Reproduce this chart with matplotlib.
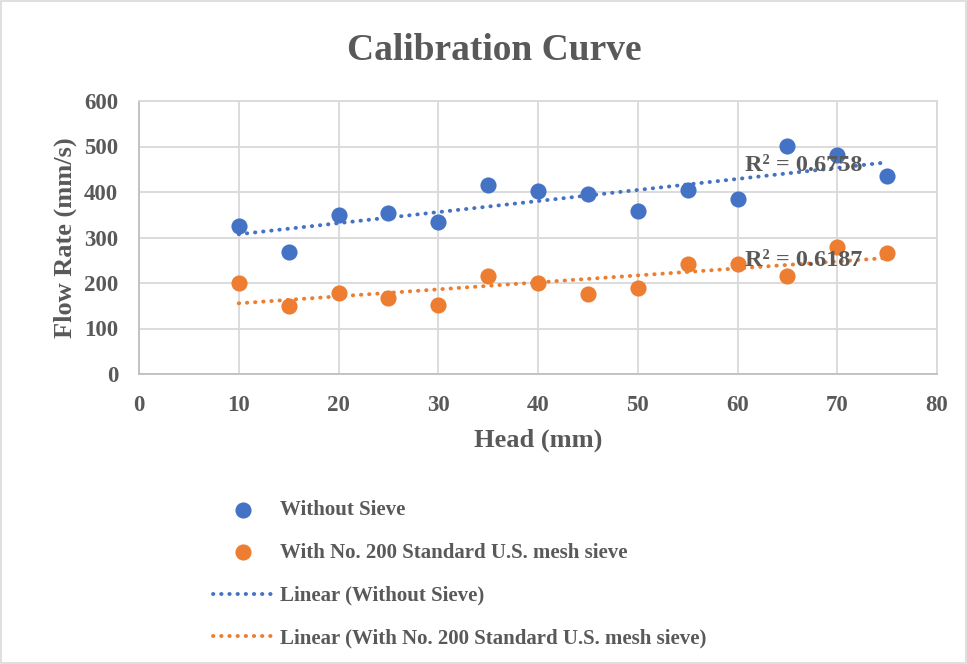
import matplotlib.pyplot as plt
import numpy as np

head = [10, 15, 20, 25, 30, 35, 40, 45, 50, 55, 60, 65, 70, 75]
no_sieve = [325, 269, 349, 353, 334, 415, 402, 395, 358, 405, 385, 501, 481, 435]
with_sieve = [200, 150, 179, 167, 151, 216, 200, 175, 190, 242, 241, 216, 280, 266]
r2_labels = ['R² = 0.6758', 'R² = 0.6187']

blue = '#4472C4'
orange = '#ED7D31'
grey = '#595959'

plt.rcParams['font.family'] = ['Liberation Serif', 'DejaVu Serif']
plt.rcParams['font.weight'] = 'bold'

fig = plt.figure(figsize=(9.67, 6.64), dpi=100)
ax = fig.add_axes([139/967, 1-374/664, (937-139)/967, (374-101)/664])

x = np.array(head, dtype=float)
xs = np.linspace(min(x), max(x), 50)

ax.scatter(x, no_sieve, s=135, c=blue, zorder=3, label='Without Sieve', linewidths=0)
ax.scatter(x, with_sieve, s=135, c=orange, zorder=3,
           label='With No. 200 Standard U.S. mesh sieve', linewidths=0)

# linear trendlines
c1 = np.polyfit(x, no_sieve, 1)
c2 = np.polyfit(x, with_sieve, 1)
ax.plot(xs, np.polyval(c1, xs), linestyle=(0, (0.1, 2.0)), lw=2.8, color=blue,
        dash_capstyle='round', zorder=2, label='Linear (Without Sieve)')
ax.plot(xs, np.polyval(c2, xs), linestyle=(0, (0.1, 2.0)), lw=2.8, color=orange,
        dash_capstyle='round', zorder=2,
        label='Linear (With No. 200 Standard U.S. mesh sieve)')

ax.text(60.8, 459, r2_labels[0], fontsize=17.5, color=grey, fontweight='bold',
        va='center', ha='left', zorder=4)
ax.text(60.8, 250, r2_labels[1], fontsize=17.5, color=grey, fontweight='bold',
        va='center', ha='left', zorder=4)

ax.set_xlim(0, 80)
ax.set_ylim(0, 600)
ax.set_xticks(range(0, 81, 10))
ax.set_yticks(range(0, 601, 100))
ax.grid(True, color='#d9d9d9', lw=1.3)
ax.set_axisbelow(True)
for s in ax.spines.values():
    s.set_color('#d9d9d9')
    s.set_linewidth(1.3)
ax.spines['bottom'].set_color('#bfbfbf')
ax.spines['left'].set_color('#bfbfbf')
ax.tick_params(length=0, labelsize=16.5, labelcolor=grey)
ax.tick_params(axis='x', pad=15)
ax.tick_params(axis='y', pad=15)

ax.set_xlabel('Head (mm)', fontsize=19, color=grey, fontweight='bold', labelpad=9)
ax.set_ylabel('Flow Rate (mm/s)', fontsize=19, color=grey, fontweight='bold', labelpad=5)
fig.text(494/967, 1-50/664, 'Calibration Curve', fontsize=27, color=grey,
         fontweight='bold', ha='center', va='center')

handles, labels = ax.get_legend_handles_labels()
leg = fig.legend(handles, labels,
                 loc='upper left', bbox_to_anchor=(213/967, 1-500/664),
                 frameon=False, fontsize=15, handlelength=2.9, handletextpad=0.34,
                 labelspacing=1.1, borderpad=0, borderaxespad=0, scatterpoints=1)
for t in leg.get_texts():
    t.set_color(grey)

fig.patches.append(plt.Rectangle((0.001, 0.001), 0.998, 0.998, transform=fig.transFigure,
                                 fill=False, edgecolor='#d9d9d9', lw=1.2))

fig.savefig('out.png', dpi=100)
